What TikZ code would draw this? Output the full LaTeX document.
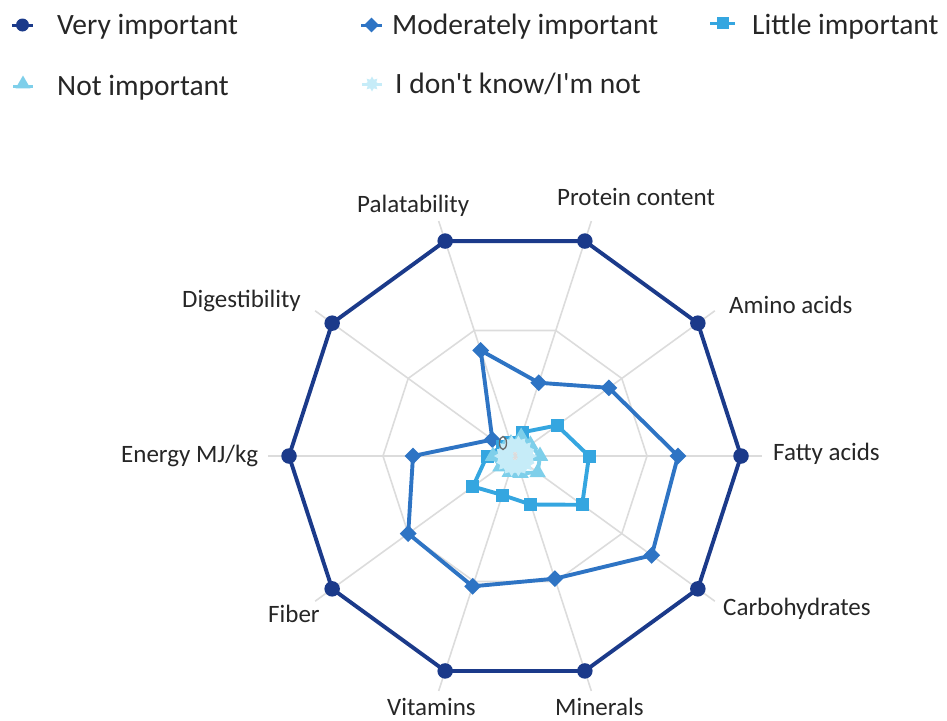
\documentclass[tikz,border=0pt]{standalone}
\usepackage{fontspec}
\setmainfont{Carlito}[Ligatures=TeXOff]
\usetikzlibrary{shapes.geometric}
\definecolor{cVery}{HTML}{1B3A8A}
\definecolor{cMod}{HTML}{2E74C4}
\definecolor{cLit}{HTML}{35A6E0}
\definecolor{cNot}{HTML}{7ECFEA}
\definecolor{cDK}{HTML}{C6ECF8}
\definecolor{cGrid}{HTML}{DCDCDC}
\definecolor{cTxt}{HTML}{262626}
\begin{document}
\begin{tikzpicture}[x=1pt,y=-1pt,
  gridline/.style={draw=cGrid,line width=1.6pt},
  lnVery/.style={draw=cVery,line width=3.9pt,line join=round},
  lnMod/.style={draw=cMod,line width=3.9pt,line join=round},
  lnLit/.style={draw=cLit,line width=3.9pt,line join=round},
  lnNot/.style={draw=cNot,line width=3.9pt,line join=round},
  lnDK/.style={draw=cDK,line width=3.9pt,line join=round},
  mkVery/.style={circle,fill=cVery,inner sep=0pt,minimum size=15.5pt},
  mkMod/.style={diamond,fill=cMod,inner sep=0pt,minimum width=17pt,minimum height=17pt},
  mkLit/.style={rectangle,fill=cLit,inner sep=0pt,minimum size=13pt},
  mkNot/.style={regular polygon,regular polygon sides=3,fill=cNot,inner sep=0pt,minimum size=19pt},
  mkDK/.style={star,star points=8,star point ratio=1.6,fill=cDK,inner sep=0pt,minimum size=20pt},
  axlabel/.style={font=\fontsize{25}{30}\selectfont,text=cTxt,inner sep=0pt,anchor=base west},
  legtext/.style={font=\fontsize{29.5}{34}\selectfont,text=cTxt,inner sep=0pt,anchor=base west}
]
\useasboundingbox (0,0) rectangle (947,720);

% ---------- legend ----------
\coordinate (l1a) at (12,25); \coordinate (l1b) at (33,25);
\draw[lnVery,line width=3pt] (l1a) -- (l1b);
\node[mkVery,minimum size=13pt] (lm1) at (22.5,25) {};
\node[legtext] (lt1) at (57,34) {Very important};

\coordinate (l2a) at (361,25); \coordinate (l2b) at (382,25);
\draw[lnMod,line width=3pt] (l2a) -- (l2b);
\node[mkMod,minimum width=15pt,minimum height=15pt] (lm2) at (371.5,25) {};
\node[legtext] (lt2) at (392,34) {Moderately important};

\coordinate (l3a) at (710,23); \coordinate (l3b) at (735,23);
\draw[lnLit,line width=3pt] (l3a) -- (l3b);
\node[mkLit,minimum size=12pt] (lm3) at (722.5,23) {};
\node[legtext] (lt3) at (752,34) {Little important};

\coordinate (l4a) at (13,86); \coordinate (l4b) at (33,86);
\draw[lnNot,line width=3pt] (l4a) -- (l4b);
\node[mkNot,minimum size=17pt] (lm4) at (23,84) {};
\node[legtext] (lt4) at (57,95) {Not important};

\coordinate (l5a) at (362,84); \coordinate (l5b) at (382,84);
\draw[lnDK,line width=3pt] (l5a) -- (l5b);
\node[mkDK,minimum size=15pt] (lm5) at (372,84) {};
\node[legtext] (lt5) at (395,93) {I don't know/I'm not};

% ---------- radar chart ----------
\begin{scope}[shift={(515,456)}]
  \coordinate (O) at (0pt,0pt);
  \foreach \i in {1,...,10}{
    \pgfmathsetmacro\a{108-36*(\i-1)}
    \coordinate (ax\i) at (\a:247pt);
    \coordinate (g\i) at (\a:132pt);
  }
  \foreach \i in {1,...,10}{ \draw[gridline] (O) -- (ax\i); }
  \draw[gridline,line join=round] (g1) \foreach \i in {2,...,10}{ -- (g\i)} -- cycle;

  % data: Palatability, Protein, Amino, Fatty, Carbo, Minerals, Vitamins, Fiber, Energy, Digestibility
  \foreach \r [count=\i] in {226,226,226,226,226,226,226,226,226,226}{
    \pgfmathsetmacro\a{108-36*(\i-1)} \coordinate (v\i) at (\a:\r pt);}
  \foreach \r [count=\i] in {111,77,116,163,169,129,137,132,102,28}{
    \pgfmathsetmacro\a{108-36*(\i-1)} \coordinate (m\i) at (\a:\r pt);}
  \foreach \r [count=\i] in {14,25,52,74,83,51,41,52,28,16}{
    \pgfmathsetmacro\a{108-36*(\i-1)} \coordinate (s\i) at (\a:\r pt);}
  \foreach \r [count=\i] in {13,20,19,25,28,18,17,18,22,13}{
    \pgfmathsetmacro\a{108-36*(\i-1)} \coordinate (t\i) at (\a:\r pt);}
  \foreach \r [count=\i] in {11,11,11,12,12,11,11,11,11,10}{
    \pgfmathsetmacro\a{108-36*(\i-1)} \coordinate (d\i) at (\a:\r pt);}

  \draw[lnVery] (v1) \foreach \i in {2,...,10}{ -- (v\i)} -- cycle;
  \foreach \i in {1,...,10}{ \node[mkVery] (vv\i) at (v\i) {}; }

  \draw[lnMod] (m1) \foreach \i in {2,...,10}{ -- (m\i)} -- cycle;
  \foreach \i in {1,...,10}{ \node[mkMod] (mm\i) at (m\i) {}; }

  \draw[lnLit] (s1) \foreach \i in {2,...,10}{ -- (s\i)} -- cycle;
  \foreach \i in {1,...,10}{ \node[mkLit] (ss\i) at (s\i) {}; }

  \draw[lnNot] (t1) \foreach \i in {2,...,10}{ -- (t\i)} -- cycle;
  \foreach \i in {1,...,10}{ \node[mkNot] (tt\i) at (t\i) {}; }

  \draw[lnDK] (d1) \foreach \i in {2,...,10}{ -- (d\i)} -- cycle;
  \foreach \i in {1,...,10}{ \node[mkDK] (dd\i) at (d\i) {}; }
\end{scope}

\node[draw=gray!80!black,line width=1.3pt,ellipse,inner sep=0pt,minimum width=7pt,minimum height=13pt] (zero) at (503,443) {};

% ---------- axis labels ----------
\node[axlabel] (lab1) at (357,212) {Palatability};
\node[axlabel] (lab2) at (557,205) {Protein content};
\node[axlabel] (lab3) at (729,313) {Amino acids};
\node[axlabel] (lab4) at (773,460) {Fatty acids};
\node[axlabel] (lab5) at (723,615) {Carbohydrates};
\node[axlabel] (lab6) at (555,715) {Minerals};
\node[axlabel] (lab7) at (387,715) {Vitamins};
\node[axlabel] (lab8) at (268,622) {Fiber};
\node[axlabel] (lab9) at (121,462) {Energy MJ/kg};
\node[axlabel] (lab10) at (182,307) {Digestibility};
\end{tikzpicture}
\end{document}
